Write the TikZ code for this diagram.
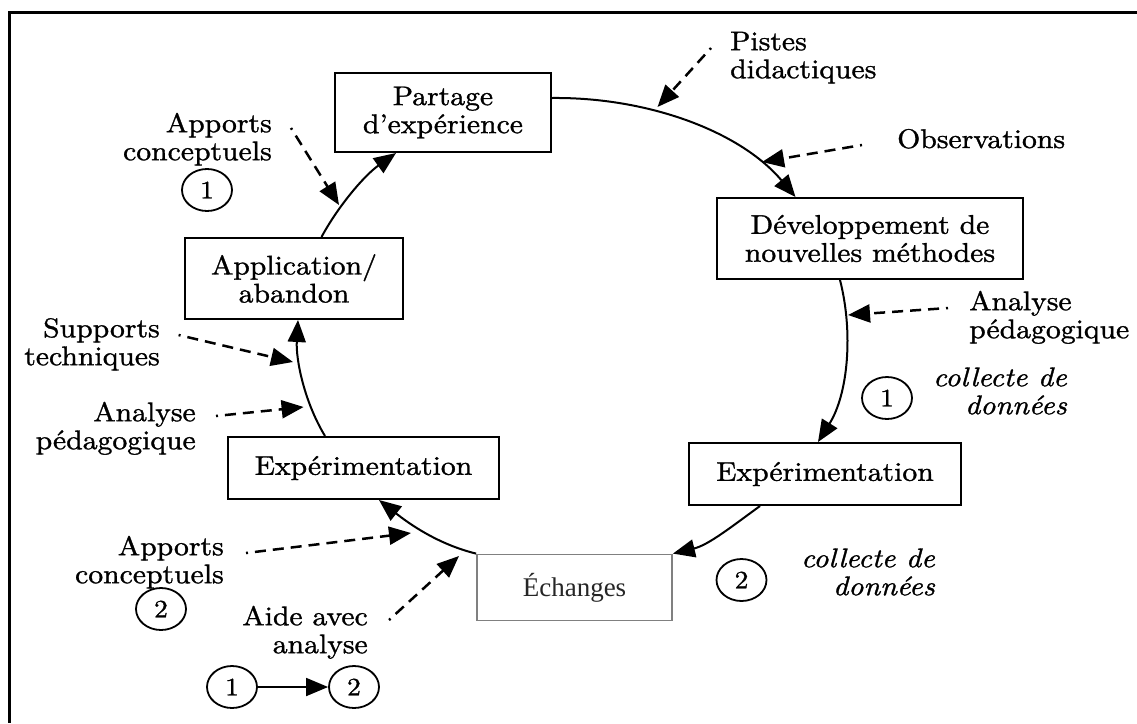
\documentclass[tikz,border=0pt]{standalone}
\usepackage{fontspec}
\setmainfont{lmroman10}[Extension=.otf, UprightFont=*-regular, ItalicFont=*-italic, BoldFont=*-bold, FakeStretch=1.1, FakeBold=1.2]
\newfontfamily\echfont{Liberation Serif}
\usetikzlibrary{arrows.meta,shapes.geometric}

\begin{document}
\begin{tikzpicture}[x=1pt,y=-1pt,
  txt/.style={font=\fontsize{27}{28}\selectfont, inner sep=0pt},
  stage/.style={draw, line width=2pt, inner sep=0pt, align=center, font=\fontsize{27}{28}\selectfont},
  lbl/.style={txt, align=right, anchor=north east},
  lblw/.style={txt, align=left, anchor=north west},
  numc/.style={draw, ellipse, line width=1.8pt, minimum width=50pt, minimum height=42pt, inner sep=0pt, font=\fontsize{25}{25}\selectfont},
  tip/.style={-{Triangle[length=22pt,width=18pt]}},
  flow/.style={line width=2pt, tip},
  feed/.style={line width=2.5pt, dash pattern=on 11pt off 7pt, dash phase=9pt, tip}
]
\useasboundingbox (0,0) rectangle (1137,723);

% frame
\draw[line width=3pt] (1137,12) -- (9.6,12) -- (9.6,723);

% stages of the cycle
\node[stage, minimum width=216pt, minimum height=79pt] (part) at (443,112.5) {Partage\\d’expérience};
\node[stage, minimum width=306pt, minimum height=81pt] (dev) at (870,238.5) {Développement de\\nouvelles méthodes};
\node[stage, minimum width=272pt, minimum height=62pt] (expR) at (825,474) {Expérimentation};
\node[stage, draw=black!50, line width=1.8pt, minimum width=195pt, minimum height=66pt, font=\echfont\fontsize{27}{28}\selectfont, text=black!85] (ech) at (574.5,587.5) {Échanges};
\node[stage, minimum width=271pt, minimum height=62pt] (expL) at (363.5,468) {Expérimentation};
\node[stage, minimum width=218pt, minimum height=81pt] (appl) at (294,278.5) {Application/\\abandon};

% cycle connectors
\draw[flow] ([yshift=14.5pt]part.east) .. controls (647,97) and (740,131) .. ([xshift=-74.5pt]dev.north);
\draw[flow] ([xshift=-30pt]dev.south) .. controls (853.4,332.3) and (848.2,393.8) .. ([xshift=-7pt]expR.north);
\draw[flow] ([xshift=-65pt]expR.south) .. controls (731.5,526.7) and (708.5,545) .. (ech.north east);
\draw[flow] (ech.north west) .. controls (437.5,544.1) and (408.9,523.5) .. ([xshift=15.5pt]expL.south);
\draw[flow] ([xshift=-38.5pt]expL.north) .. controls (303.9,401.1) and (295.8,359) .. ([xshift=4pt]appl.south);
\draw[flow] ([xshift=27.5pt]appl.north) .. controls (338.4,205.8) and (364.2,175.6) .. ([xshift=-47pt]part.south);

% input labels
\node[lblw] (pistes) at (730,30.4) {\strut Pistes\\didactiques};
\node[txt, anchor=base west] (obs) at (897,148) {Observations};
\node[lblw] (anaR) at (969,290.4) {\strut Analyse\\pédagogique};
\node[lbl, font=\itshape\fontsize{27}{28}\selectfont] (col1) at (1067,366.4) {\strut collecte de\\données};
\node[lbl, font=\itshape\fontsize{27}{28}\selectfont] (col2) at (935,547.4) {\strut collecte de\\données};
\node[lbl] (app1) at (272,112.4) {\strut Apports\\conceptuels};
\node[lbl] (sup) at (160,317.4) {\strut Supports\\techniques};
\node[lbl] (anaL) at (196,401.4) {\strut Analyse\\pédagogique};
\node[lbl] (app2) at (224,535.4) {\strut Apports\\conceptuels};
\node[lbl] (aide) at (368,605.4) {\strut Aide avec\\analyse};

% numbered markers
\node[numc] (n1a) at (207,190) {1};
\node[numc] (n1b) at (887,398) {1};
\node[numc] (n2a) at (741.5,580) {2};
\node[numc] (n2b) at (161,609) {2};
\node[numc] (n1c) at (232,687) {1};
\node[numc] (n2c) at (354,687) {2};
\draw[line width=1.8pt, tip] (n1c) -- (n2c);

% ends of the dashed inputs
\coordinate (pistesT) at (711,48);   \coordinate (pistesH) at (657.5,107);
\coordinate (obsT) at (862,145);     \coordinate (obsH) at (762,162);
\coordinate (anaRT) at (948,308);    \coordinate (anaRH) at (848,315);
\coordinate (app1T) at (291,128);    \coordinate (app1H) at (339,205);
\coordinate (supT) at (178.6,335);   \coordinate (supH) at (293,362);
\coordinate (anaLT) at (216,416);    \coordinate (anaLH) at (303.6,407);
\coordinate (app2T) at (246,553);    \coordinate (app2H) at (411,533);
\coordinate (aideT) at (389,620);    \coordinate (aideH) at (459,556);

\draw[feed] (pistesT) -- (pistesH);
\draw[feed] (obsT) -- (obsH);
\draw[feed] (anaRT) -- (anaRH);
\draw[feed] (app1T) -- (app1H);
\draw[feed] (supT) -- (supH);
\draw[feed] (anaLT) -- (anaLH);
\draw[feed] (app2T) -- (app2H);
\draw[feed] (aideT) -- (aideH);
\end{tikzpicture}
\end{document}
